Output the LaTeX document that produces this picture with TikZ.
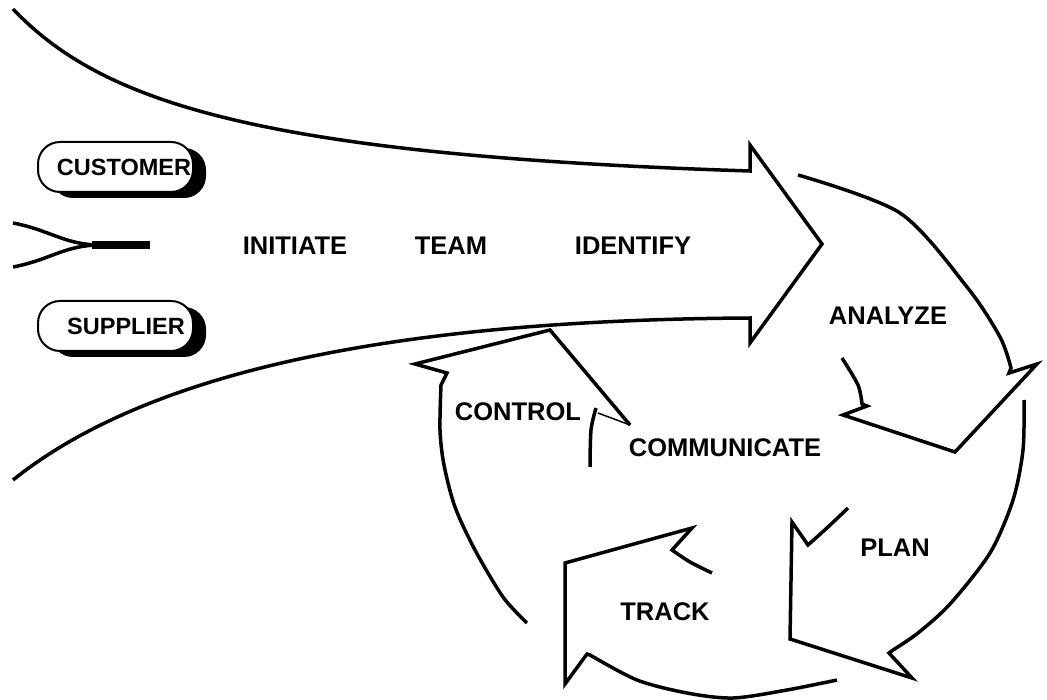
\documentclass[tikz,border=0pt]{standalone}
\usepackage{fontspec}
\setmainfont{Liberation Sans}
\usetikzlibrary{shadows}
\begin{document}
\begin{tikzpicture}[x=1pt,y=-1pt,
  ln/.style={line width=3.5pt, line join=miter, line cap=butt},
  lbl/.style={font=\fontsize{25.5}{30}\selectfont\bfseries, inner sep=0pt},
  boxlbl/.style={font=\fontsize{23.5}{28}\selectfont\bfseries, inner sep=0pt},
  pill/.style={draw, line width=2pt, fill=white, rounded corners=22pt,
    minimum width=155pt, minimum height=50pt, inner sep=0pt,
    general shadow={fill=black, opacity=1, shadow xshift=13pt, shadow yshift=-6pt}},
]
\useasboundingbox (0,0) rectangle (1047,700);

% big incoming arrow
\draw[ln] (13,9) .. controls (100,100) and (250,155) .. (750,171)
  -- (750,145) -- (822,244) -- (750,343) -- (750,318)
  .. controls (400,320) and (150,370) .. (13,480);

% merging lines at left
\draw[ln] (13,223) .. controls (50,230) and (65,245) .. (100,245);
\draw[ln] (13,267) .. controls (50,260) and (65,245) .. (100,245);
\draw[line width=8pt] (92,245) -- (150,245);

% pills
\node[pill] (custbox) at (115.5,167) {};
\node[pill] (suppbox) at (115.5,326) {};
\node[boxlbl] (cust) at (124,167) {CUSTOMER};
\node[boxlbl] (supp) at (126,326) {SUPPLIER};

% ANALYZE arrow
\draw[ln] plot[smooth] coordinates {(798,175) (900,213) (967,287) (1000,337) (1011,368)}
  -- (1009,373) -- (1037,364) -- (955,452) -- (843,415) -- (867,406) -- (862,404)
  -- plot[smooth] coordinates {(862,404) (858,385) (842,358)};

% PLAN arrow
\draw[ln] plot[smooth] coordinates {(1024,400) (1023,450) (1013,500) (990,553) (950,604) (918,633) (893,650)}
  -- (889,653) -- (912,678) -- (790,639) -- (792,522) -- (808,545)
  -- plot[smooth] coordinates {(808,545) (828,527) (848,508)};

% TRACK arrow
\draw[ln] plot[smooth] coordinates {(837,680) (787,690) (733,698) (687,693) (637,680) (590,655)}
  -- (587,654) -- (565,684) -- (565,563) -- (692,528) -- (672,550)
  -- plot[smooth] coordinates {(672,550) (690,562) (712,573)};

% CONTROL arrow
\draw[ln] plot[smooth] coordinates {(527,623) (503,597) (475,550) (455,507) (444,465) (440,430) (441,385)}
  -- (447,373) -- (415,364) -- (550,330) -- (630,425);
\draw[line width=1.5pt] (630,425) -- (598,413);
\draw[ln] plot[smooth] coordinates {(596,408) (591,430) (590,467)};

% labels
\node[lbl] (initiate) at (295,246) {INITIATE};
\node[lbl] (team) at (451,246) {TEAM};
\node[lbl] (identify) at (633,246) {IDENTIFY};
\node[lbl] (analyze) at (888,316) {ANALYZE};
\node[lbl] (communicate) at (725,448) {COMMUNICATE};
\node[lbl] (control) at (518,412) {CONTROL};
\node[lbl] (plan) at (895,548) {PLAN};
\node[lbl] (track) at (665,612) {TRACK};
\end{tikzpicture}
\end{document}
